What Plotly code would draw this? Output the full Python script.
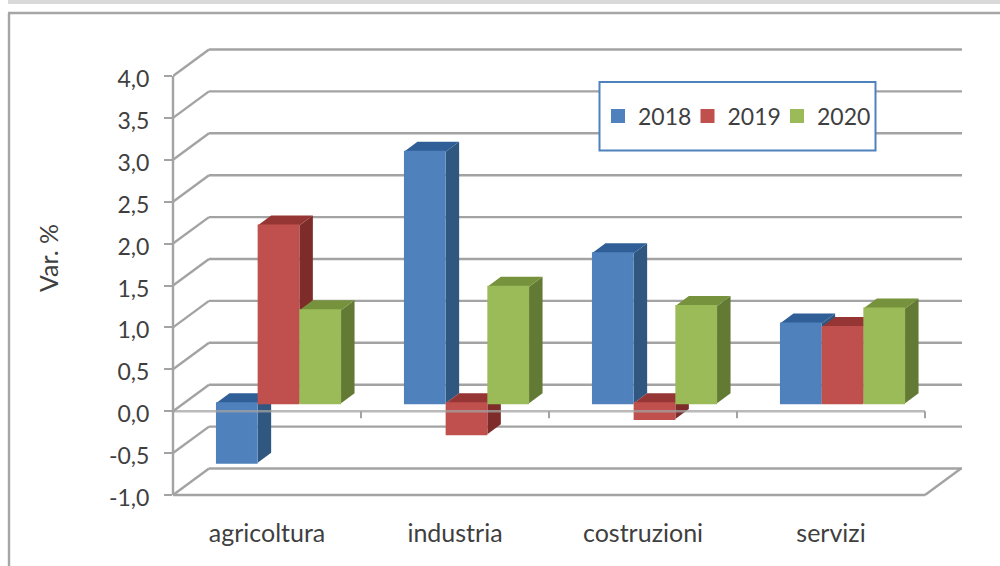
import plotly.graph_objects as go

categories = ["agricoltura", "industria", "costruzioni", "servizi"]
series_names = ["2018", "2019", "2020"]
values_2018 = [-0.71, 3.0, 1.79, 0.95]
values_2019 = [2.12, -0.37, -0.19, 0.91]
values_2020 = [1.11, 1.39, 1.16, 1.13]
y_ticks = [-1.0, -0.5, 0.0, 0.5, 1.0, 1.5, 2.0, 2.5, 3.0, 3.5, 4.0]
y_labels = ["-1,0", "-0,5", "0,0", "0,5", "1,0", "1,5", "2,0", "2,5", "3,0", "3,5", "4,0"]

front = ["#4f81bd", "#c0504d", "#9bbb59"]
side = ["#30577f", "#7d2c2a", "#637a35"]
top = ["#2f5f96", "#963634", "#76923c"]
GRID = "#a3a3a3"
TEXT = "#3f3f3f"
FONT = "Lato"

W, H = 1000, 566
L, R, T, B = 173, 962, 18, 498
PX_X = 188.0
PX_Y = 83.8


def dx(px):
    return px / PX_X


def dy(px):
    return px / PX_Y


def paper_x(px):
    return (px - L) / (R - L)


def paper_y(px):
    return (B - px) / (B - T)


x_range = [-0.5, -0.5 + (R - L) / PX_X]
y_range = [-1 - (B - 495) / PX_Y, -1 + (495 - T) / PX_Y]

wall_x, wall_y = dx(36), dy(26.5)
bar_w = dx(41.7)
plane_x, plane_y = dx(11.5), dy(8)
depth_x, depth_y = dx(13.5), dy(10)
x_end = 3.5


def line(x0, y0, x1, y1, layer="below", color=GRID, width=2.4, opacity=1):
    return dict(type="line", x0=x0, y0=y0, x1=x1, y1=y1, xref="x", yref="y", layer=layer,
                line=dict(color=color, width=width), opacity=opacity)


def poly(points, color):
    path = "M" + " L".join(f"{a:.4f},{b:.4f}" for a, b in points) + " Z"
    return dict(type="path", path=path, xref="x", yref="y", layer="below",
                fillcolor=color, line=dict(width=0))


def paper_rect(x0, y0, x1, y1, fill, border=None, width=0, layer="above"):
    return dict(type="rect", xref="paper", yref="paper", x0=paper_x(x0), x1=paper_x(x1),
                y0=paper_y(y0), y1=paper_y(y1), fillcolor=fill, layer=layer,
                line=dict(color=border or fill, width=width))


shapes = []
for t in y_ticks:
    shapes.append(line(x_range[0], t, x_range[0] + wall_x, t + wall_y))
    shapes.append(line(x_range[0] + wall_x, t + wall_y, x_range[1], t + wall_y))
shapes.append(line(x_range[0], -1, x_end, -1))
shapes.append(line(x_end, -1, x_end + wall_x, -1 + wall_y))
shapes.append(dict(type="line", xref="paper", yref="y", x0=0, x1=0, y0=-1, y1=4, layer="below",
                   line=dict(color=GRID, width=2.4)))

all_values = [values_2018, values_2019, values_2020]
traces = []
for s, vals in enumerate(all_values):
    xs = [i + plane_x + (s - 1) * bar_w for i in range(len(categories))]
    traces.append(go.Bar(x=xs, y=vals, base=[plane_y] * len(vals), width=bar_w - dx(2), name=series_names[s],
                         marker=dict(color=front[s], line=dict(width=2, color=front[s]))))
# empty legend slot: keeps the last legend label from being clipped by the legend's width
traces.append(go.Bar(x=[None], y=[None], name=" ", hoverinfo="skip",
                     marker=dict(color="rgba(0,0,0,0)", line=dict(width=0))))

for i in range(len(categories)):
    for s, vals in enumerate(all_values):
        v = vals[i]
        xc = i + plane_x + (s - 1) * bar_w
        x0, x1 = xc - bar_w / 2, xc + bar_w / 2
        y_hi = plane_y + max(v, 0)
        y_lo = plane_y + min(v, 0)
        shapes.append(poly([(x1, y_lo), (x1, y_hi), (x1 + depth_x, y_hi + depth_y), (x1 + depth_x, y_lo + depth_y)], side[s]))
        shapes.append(poly([(x0, y_hi), (x1, y_hi), (x1 + depth_x, y_hi + depth_y), (x0 + depth_x, y_hi + depth_y)], top[s]))

shapes.append(line(x_range[0], 0, x_end, 0, layer="above", opacity=0.75))
for k in range(1, len(categories) + 1):
    shapes.append(line(k - 0.5, 0, k - 0.5, dy(-7), layer="above", width=2))

shapes.append(paper_rect(8, 0, 1000, 4, "#d9d9d9"))
shapes.append(dict(type="line", xref="paper", yref="paper", x0=paper_x(9), x1=paper_x(9),
                   y0=paper_y(13), y1=paper_y(566), line=dict(color="#a6a6a6", width=2.4)))
shapes.append(dict(type="line", xref="paper", yref="paper", x0=paper_x(8), x1=paper_x(1000),
                   y0=paper_y(13), y1=paper_y(13), line=dict(color="#a6a6a6", width=2.4)))
shapes.append(paper_rect(599.5, 82, 875.5, 150.5, "#ffffff", "#4f81bd", 2))

fig = go.Figure(traces)
fig.update_layout(
    width=W, height=H, autosize=False, barmode="overlay",
    margin=dict(l=L, r=W - R, t=T, b=H - B, pad=0),
    paper_bgcolor="#ffffff", plot_bgcolor="#ffffff",
    font=dict(family=FONT, size=23, color=TEXT),
    shapes=shapes,
    legend=dict(orientation="h", x=paper_x(598), xanchor="left", y=paper_y(116), yanchor="middle",
                bgcolor="rgba(0,0,0,0)", borderwidth=0, entrywidth=44.5, entrywidthmode="pixels",
                font=dict(family=FONT, size=23, color=TEXT), traceorder="normal"),
    xaxis=dict(range=x_range, tickvals=list(range(len(categories))), ticktext=categories, showgrid=False,
               zeroline=False, showline=False, ticks="", ticklabelstandoff=18,
               tickfont=dict(family=FONT, size=25, color=TEXT)),
    yaxis=dict(range=y_range, tickvals=y_ticks, ticktext=y_labels, showgrid=False, zeroline=False,
               showline=False, ticks="outside", ticklen=8, tickwidth=2.4, tickcolor=GRID,
               ticklabelstandoff=10, ticklabelshift=3,
               tickfont=dict(family=FONT, size=23, color=TEXT),
               title=dict(text="Var. %", font=dict(family=FONT, size=25, color=TEXT), standoff=43)),
)
fig.write_html(
    "out.html",
    config={"responsive": False, "displayModeBar": False},
    post_script="document.body.style.margin='0';document.documentElement.style.overflow='hidden';",
)
